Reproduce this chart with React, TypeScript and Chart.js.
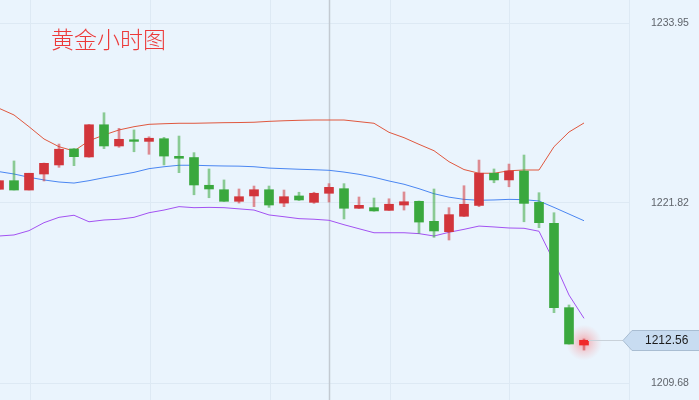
import React, { useEffect, useRef } from "react";
import { Chart, registerables } from "chart.js";
Chart.register(...registerables);

const TITLE = "黄金小时图";
const Y_TICKS = [1209.68, 1221.82, 1233.95];
const CURRENT_PRICE = 1212.56;
const CROSSHAIR_INDEX = 22;

const OPEN = [1222.74, 1223.32, 1222.69, 1223.77, 1224.38, 1225.46, 1224.92, 1227.09, 1225.66, 1226.08,
  1225.97, 1226.15, 1224.96, 1224.88, 1223.01, 1222.71, 1221.93, 1222.29, 1222.71, 1221.81,
  1222.29, 1221.86, 1222.47, 1222.78, 1221.46, 1221.50, 1221.32, 1221.68, 1221.93, 1220.58,
  1219.88, 1220.92, 1221.65, 1223.82, 1223.37, 1223.97, 1221.86, 1220.45, 1214.76, 1212.24];
const HIGH = [1223.34, 1224.65, 1223.82, 1224.51, 1225.79, 1225.49, 1227.11, 1227.90, 1226.85, 1226.74,
  1226.28, 1226.24, 1226.33, 1225.21, 1224.11, 1223.37, 1222.76, 1222.96, 1222.96, 1222.69,
  1222.54, 1222.54, 1223.12, 1223.12, 1222.22, 1222.15, 1222.10, 1222.56, 1221.95, 1222.76,
  1221.50, 1222.98, 1224.71, 1224.11, 1224.44, 1225.05, 1222.51, 1221.16, 1214.94, 1212.65];
const LOW = [1222.72, 1222.69, 1222.69, 1223.30, 1224.22, 1224.33, 1224.90, 1225.48, 1225.57, 1225.27,
  1225.10, 1224.38, 1223.86, 1222.37, 1222.17, 1221.92, 1221.81, 1221.57, 1221.52, 1221.57,
  1221.98, 1221.79, 1221.88, 1220.74, 1221.44, 1221.26, 1221.31, 1221.34, 1219.77, 1219.50,
  1219.32, 1220.90, 1221.57, 1223.18, 1222.91, 1220.55, 1220.15, 1214.42, 1212.30, 1211.90];
const CLOSE = [1223.32, 1222.69, 1223.82, 1224.49, 1225.44, 1224.94, 1227.09, 1225.66, 1226.11, 1225.97,
  1226.18, 1224.98, 1224.83, 1223.03, 1222.76, 1221.93, 1222.24, 1222.71, 1221.68, 1222.24,
  1222.02, 1222.47, 1222.87, 1221.46, 1221.66, 1221.28, 1221.73, 1221.90, 1220.53, 1219.93,
  1221.03, 1221.73, 1223.82, 1223.37, 1223.97, 1221.79, 1220.49, 1214.76, 1212.31, 1212.56];

const UPPER = [1228.20, 1227.75, 1226.96, 1226.13, 1225.61, 1225.32, 1226.01, 1226.40, 1226.74, 1226.96,
  1227.12, 1227.16, 1227.19, 1227.19, 1227.21, 1227.23, 1227.24, 1227.26, 1227.32, 1227.36,
  1227.39, 1227.41, 1227.41, 1227.41, 1227.30, 1227.19, 1226.58, 1226.22, 1225.77, 1225.34,
  1224.60, 1224.07, 1223.82, 1223.82, 1223.99, 1224.04, 1224.04, 1225.61, 1226.60, 1227.21];
const MIDDLE = [1223.93, 1223.77, 1223.55, 1223.37, 1223.23, 1223.16, 1223.32, 1223.52, 1223.70, 1223.88,
  1224.13, 1224.26, 1224.36, 1224.36, 1224.33, 1224.31, 1224.30, 1224.26, 1224.17, 1224.13,
  1224.09, 1224.06, 1224.02, 1223.90, 1223.75, 1223.55, 1223.30, 1223.08, 1222.78, 1222.44,
  1222.21, 1222.06, 1222.00, 1222.02, 1222.06, 1222.04, 1221.95, 1221.52, 1221.07, 1220.62];
const LOWER = [1219.59, 1219.66, 1219.95, 1220.49, 1220.85, 1220.99, 1220.55, 1220.67, 1220.72, 1220.85,
  1221.16, 1221.34, 1221.57, 1221.50, 1221.52, 1221.50, 1221.42, 1221.34, 1221.01, 1220.89,
  1220.76, 1220.72, 1220.65, 1220.35, 1220.08, 1219.81, 1219.81, 1219.81, 1219.75, 1219.59,
  1219.84, 1220.04, 1220.26, 1220.20, 1220.13, 1220.11, 1219.91, 1217.86, 1215.61, 1214.04];

const UP_BODY = "#d2353b";
const DOWN_BODY = "#3aa83e";
const UP_WICK = "rgba(210,53,59,0.55)";
const DOWN_WICK = "rgba(58,168,62,0.55)";
const LAST_BODY = "#f02a2a";

export default function App() {
  const ref = useRef<HTMLCanvasElement | null>(null);

  useEffect(() => {
    const canvas = ref.current;
    if (!canvas) return;
    const n = CLOSE.length;
    const idx = CLOSE.map((_, i) => i);
    const isUp = (i: number) => CLOSE[i] >= OPEN[i];

    const overlay = {
      id: "overlay",
      beforeDraw(chart: any) {
        const c = chart.ctx;
        c.save();
        c.fillStyle = "#eaf4fd";
        c.fillRect(0, 0, chart.width, chart.height);
        c.restore();
      },
      beforeDatasetsDraw(chart: any) {
        const c = chart.ctx;
        const xs = chart.scales.x;
        const ys = chart.scales.y;
        const a = chart.chartArea;
        c.save();
        const cx = Math.round(xs.getPixelForValue(CROSSHAIR_INDEX)) + 0.5;
        c.strokeStyle = "#c3cad2";
        c.lineWidth = 1.5;
        c.beginPath();
        c.moveTo(cx, a.top);
        c.lineTo(cx, a.bottom);
        c.stroke();
        const lx = xs.getPixelForValue(n - 1);
        const ly = ys.getPixelForValue((OPEN[n - 1] + CLOSE[n - 1]) / 2);
        const g = c.createRadialGradient(lx, ly, 0, lx, ly, 18);
        g.addColorStop(0, "rgba(255,70,70,0.45)");
        g.addColorStop(0.5, "rgba(255,90,90,0.2)");
        g.addColorStop(1, "rgba(255,120,120,0)");
        c.fillStyle = g;
        c.beginPath();
        c.arc(lx, ly, 18, 0, Math.PI * 2);
        c.fill();
        c.restore();
      },
      afterDraw(chart: any) {
        const c = chart.ctx;
        const xs = chart.scales.x;
        const ys = chart.scales.y;
        const a = chart.chartArea;
        c.save();
        const py = Math.round(ys.getPixelForValue(CURRENT_PRICE)) + 0.5;
        const lx = xs.getPixelForValue(n - 1) + 4;
        const tip = a.right - 7;
        c.strokeStyle = "#c9d1d9";
        c.lineWidth = 1;
        c.beginPath();
        c.moveTo(lx, py);
        c.lineTo(tip, py);
        c.stroke();
        c.fillStyle = "#c8dcf1";
        c.strokeStyle = "#a9bdd2";
        c.beginPath();
        c.moveTo(tip, py);
        c.lineTo(tip + 9, py - 10);
        c.lineTo(chart.width + 2, py - 10);
        c.lineTo(chart.width + 2, py + 10);
        c.lineTo(tip + 9, py + 10);
        c.closePath();
        c.fill();
        c.stroke();
        c.fillStyle = "#1c1c1c";
        c.font = "12px 'Liberation Sans', Arial, sans-serif";
        c.textBaseline = "middle";
        c.textAlign = "left";
        c.fillText(CURRENT_PRICE.toFixed(2), 645, py + 0.5);
        c.fillStyle = "#ec3a3a";
        c.font = "300 23px 'Noto Sans CJK SC', sans-serif";
        c.textBaseline = "middle";
        c.fillText(TITLE, 51, 39);
        c.restore();
      },
    };

    const chart = new Chart(canvas, {
      type: "bar",
      data: {
        datasets: [
          {
            type: "line",
            data: idx.map((i) => ({ x: i, y: UPPER[i] })),
            borderColor: "#e0583f",
            borderWidth: 1,
            pointRadius: 0,
            tension: 0,
            order: 5,
          } as any,
          {
            type: "line",
            data: idx.map((i) => ({ x: i, y: MIDDLE[i] })),
            borderColor: "#4a86f2",
            borderWidth: 1,
            pointRadius: 0,
            tension: 0,
            order: 5,
          } as any,
          {
            type: "line",
            data: idx.map((i) => ({ x: i, y: LOWER[i] })),
            borderColor: "#a352f2",
            borderWidth: 1,
            pointRadius: 0,
            tension: 0,
            order: 5,
          } as any,
          {
            type: "bar",
            data: idx.map((i) => ({ x: i, y: [LOW[i], HIGH[i]] })),
            backgroundColor: idx.map((i) => (isUp(i) ? UP_WICK : DOWN_WICK)),
            barThickness: 2,
            grouped: false,
            borderWidth: 0,
            order: 4,
          } as any,
          {
            type: "bar",
            data: idx.map((i) => ({ x: i, y: [OPEN[i], CLOSE[i]] })),
            backgroundColor: idx.map((i) =>
              i === n - 1 ? LAST_BODY : isUp(i) ? UP_BODY : DOWN_BODY
            ),
            barThickness: 9,
            grouped: false,
            borderWidth: 0,
            order: 3,
          } as any,
        ],
      },
      options: {
        animation: false,
        responsive: false,
        devicePixelRatio: 1,
        layout: { padding: 0 },
        plugins: { legend: { display: false }, tooltip: { enabled: false } },
        scales: {
          x: {
            type: "linear",
            min: 1 / 15,
            max: 631 / 15,
            offset: false,
            afterBuildTicks: (s: any) => {
              const t = [];
              for (let v = 31 / 15; v <= 631 / 15 + 1e-6; v += 8) t.push({ value: v });
              s.ticks = t;
            },
            afterFit: (s: any) => {
              s.height = 0;
              s.paddingLeft = 0;
              s.paddingRight = 0;
            },
            ticks: { display: false },
            grid: { color: "#dde9f4", drawTicks: false, lineWidth: 1, offset: false },
            border: { display: false },
          },
          y: {
            type: "linear",
            position: "right",
            min: 1208.534,
            max: 1235.501,
            afterBuildTicks: (s: any) => {
              s.ticks = Y_TICKS.map((v) => ({ value: v }));
            },
            afterFit: (s: any) => {
              s.width = 69;
              s.paddingTop = 0;
              s.paddingBottom = 0;
            },
            ticks: {
              padding: 21,
              color: "#5f646b",
              font: { family: "'Liberation Sans', Arial, sans-serif", size: 10.5 },
              callback: (v: any) => Number(v).toFixed(2),
            },
            grid: { color: "#dde9f4", drawTicks: false, lineWidth: 1 },
            border: { display: false },
          },
        },
      },
      plugins: [overlay],
    } as any);
    return () => chart.destroy();
  }, []);

  return (
    <div style={{ position: "absolute", left: 0, top: 0, width: 699, height: 400 }}>
      <canvas ref={ref} width={699} height={400} style={{ display: "block" }} />
    </div>
  );
}
